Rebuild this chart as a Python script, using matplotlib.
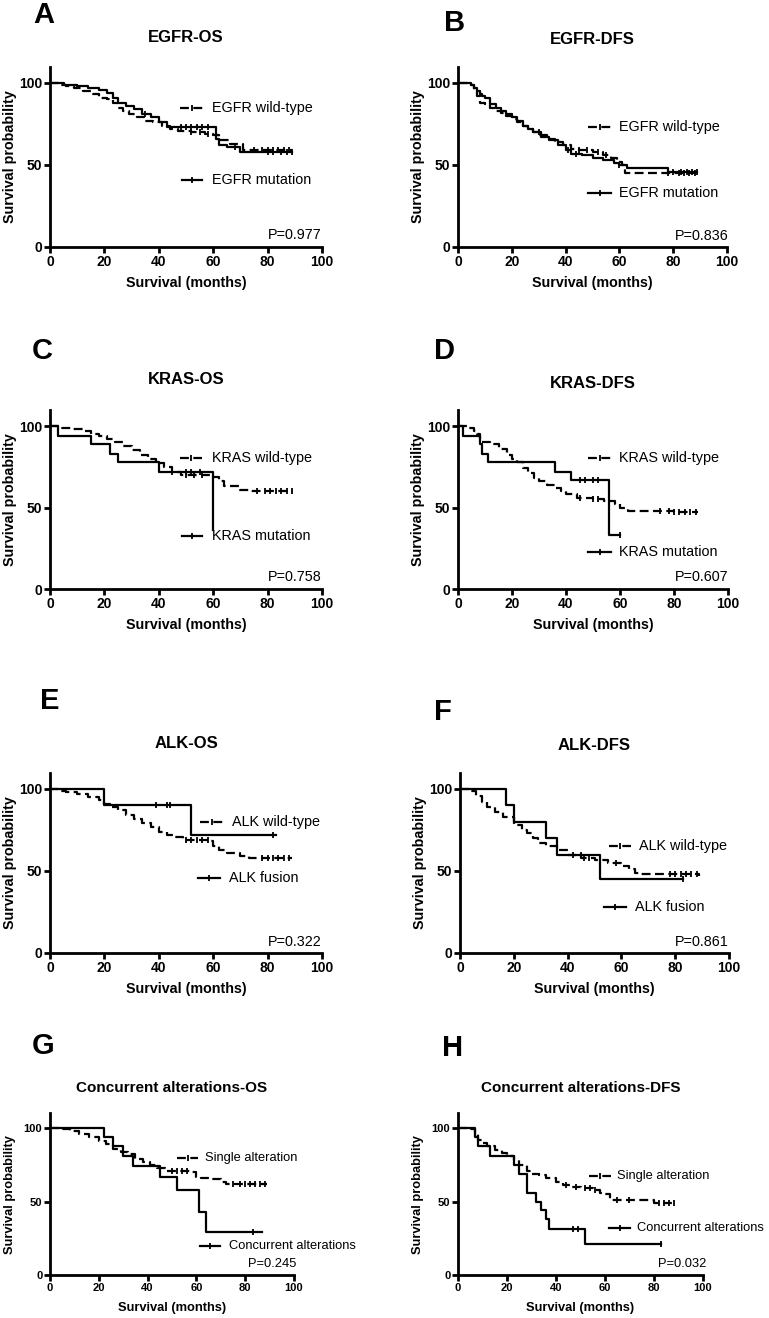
import matplotlib
matplotlib.use("Agg")
import matplotlib.pyplot as plt
from matplotlib.lines import Line2D
import numpy as np

plt.rcParams['font.family'] = ['Liberation Sans', 'DejaVu Sans']

W, H = 769, 1318

# ---- data (months, survival %) ----
# A  EGFR-OS
egfr_os_wt_t = [0, 3, 6, 9, 12, 15, 18, 21, 23, 25, 27, 29, 32, 35, 38, 41, 44, 47, 52, 57, 60, 62, 66, 71, 89]
egfr_os_wt_s = [100, 99, 98, 97, 95, 93, 91, 90, 88, 85, 83, 81, 79, 77, 76, 74, 72, 71, 70, 69, 68, 65, 63, 59, 59]
egfr_os_wt_c = [52, 55, 58, 75, 78, 80, 82, 84, 86, 88]
egfr_os_mt_t = [0, 5, 10, 14, 18, 21, 23, 25, 28, 31, 34, 37, 40, 43, 61, 62, 65, 70, 89]
egfr_os_mt_s = [100, 99, 98, 97, 96, 94, 91, 88, 86, 84, 81, 79, 76, 73, 66, 62, 61, 58, 58]
egfr_os_mt_c = [35, 48, 50, 52, 54, 56, 58, 68, 80, 82, 85, 87, 89]

# B  EGFR-DFS
egfr_dfs_wt_t = [0, 5, 6, 7, 8, 10, 12, 14, 16, 18, 20, 22, 24, 26, 28, 30, 33, 36, 39, 42, 45, 50, 54, 57, 59, 61, 62, 89]
egfr_dfs_wt_s = [100, 99, 96, 92, 88, 87, 85, 83, 82, 80, 78, 76, 74, 72, 70, 68, 66, 64, 62, 60, 59, 58, 56, 54, 52, 50, 45, 45]
egfr_dfs_wt_c = [45, 48, 52, 55, 78, 82, 84, 86, 88]
egfr_dfs_mt_t = [0, 5, 6, 7, 8, 9, 10, 12, 14, 16, 18, 20, 22, 24, 26, 28, 31, 34, 37, 40, 42, 46, 50, 54, 58, 60, 63, 78, 89]
egfr_dfs_mt_s = [100, 99, 97, 95, 93, 92, 91, 87, 85, 83, 81, 79, 77, 74, 72, 70, 67, 65, 62, 59, 57, 56, 54, 53, 51, 50, 48, 46, 46]
egfr_dfs_mt_c = [8, 30, 41, 44, 60, 80, 83, 85, 87, 89]

# C  KRAS-OS
kras_os_wt_t = [0, 4, 8, 12, 15, 18, 21, 24, 27, 30, 33, 36, 39, 42, 45, 48, 60, 62, 64, 70, 73, 89]
kras_os_wt_s = [100, 99, 98, 97, 95, 94, 92, 90, 88, 85, 82, 80, 77, 75, 72, 70, 69, 66, 63, 61, 60, 60]
kras_os_wt_c = [50, 53, 56, 76, 79, 81, 83, 85, 87, 89]
kras_os_mt_t = [0, 3, 15, 22, 25, 40, 60]
kras_os_mt_s = [100, 94, 89, 83, 78, 72, 36]
kras_os_mt_c = [45, 50, 52, 55]

# D  KRAS-DFS
kras_dfs_wt_t = [0, 4, 6, 7, 8, 9, 12, 15, 18, 20, 22, 24, 26, 28, 30, 33, 36, 38, 40, 44, 50, 54, 58, 60, 63, 80, 89]
kras_dfs_wt_s = [100, 99, 97, 95, 92, 90, 89, 86, 82, 80, 78, 74, 71, 68, 66, 64, 62, 60, 58, 56, 55, 54, 52, 50, 48, 47, 47]
kras_dfs_wt_c = [45, 50, 52, 75, 78, 80, 82, 84, 86, 88]
kras_dfs_mt_t = [0, 2, 8, 9, 11, 36, 42, 56, 60]
kras_dfs_mt_s = [100, 94, 89, 83, 78, 72, 67, 33, 33]
kras_dfs_mt_c = [45, 47, 50, 52, 60]

# E  ALK-OS
alk_os_wt_t = [0, 3, 6, 10, 14, 18, 20, 22, 25, 28, 31, 34, 37, 40, 43, 46, 49, 59, 60, 62, 65, 70, 73, 89]
alk_os_wt_s = [100, 99, 98, 97, 95, 93, 91, 89, 87, 84, 82, 79, 77, 74, 72, 71, 69, 68, 65, 63, 61, 59, 58, 58]
alk_os_wt_c = [50, 52, 54, 56, 58, 78, 80, 82, 84, 86, 88]
alk_os_mt_t = [0, 20, 52, 83]
alk_os_mt_s = [100, 90, 72, 72]
alk_os_mt_c = [39, 43, 44, 82]

# F  ALK-DFS
alk_dfs_wt_t = [0, 4, 6, 8, 10, 13, 16, 20, 23, 25, 27, 29, 32, 36, 40, 45, 50, 55, 60, 63, 65, 67, 89]
alk_dfs_wt_s = [100, 99, 96, 92, 89, 86, 83, 78, 75, 73, 70, 67, 65, 63, 60, 58, 57, 55, 53, 51, 49, 48, 47]
alk_dfs_wt_c = [46, 48, 58, 78, 80, 82, 84, 86, 88]
alk_dfs_mt_t = [0, 17, 20, 32, 36, 52, 83]
alk_dfs_mt_s = [100, 90, 80, 70, 60, 45, 45]
alk_dfs_mt_c = [42, 45, 83]

# G  Concurrent alterations-OS
conc_os_wt_t = [0, 4, 8, 12, 16, 20, 23, 26, 29, 32, 35, 38, 41, 44, 47, 58, 60, 62, 65, 70, 72, 89]
conc_os_wt_s = [100, 99, 98, 96, 94, 91, 89, 86, 84, 82, 79, 77, 75, 73, 71, 70, 67, 66, 65, 63, 62, 62]
conc_os_wt_c = [50, 52, 54, 56, 75, 78, 80, 82, 84, 86, 88]
conc_os_mt_t = [0, 22, 26, 30, 34, 45, 52, 61, 64, 87]
conc_os_mt_s = [100, 94, 88, 81, 74, 67, 58, 43, 29, 29]
conc_os_mt_c = [83]

# H  Concurrent alterations-DFS
conc_dfs_wt_t = [0, 5, 7, 8, 10, 12, 15, 18, 20, 23, 25, 28, 30, 33, 36, 40, 43, 46, 50, 55, 58, 60, 62, 63, 80, 89]
conc_dfs_wt_s = [100, 99, 96, 92, 90, 88, 85, 83, 81, 78, 75, 71, 69, 68, 66, 63, 61, 60, 59, 58, 56, 55, 52, 51, 49, 49]
conc_dfs_wt_c = [44, 48, 52, 54, 56, 65, 70, 82, 84, 86, 88]
conc_dfs_mt_t = [0, 7, 8, 13, 23, 25, 28, 32, 34, 36, 37, 52, 83]
conc_dfs_mt_s = [100, 94, 88, 81, 75, 69, 56, 50, 44, 38, 31, 21, 21]
conc_dfs_mt_c = [47, 49, 83]

letters = ["A", "B", "C", "D", "E", "F", "G", "H"]
titles = ["EGFR-OS", "EGFR-DFS", "KRAS-OS", "KRAS-DFS", "ALK-OS", "ALK-DFS",
          "Concurrent alterations-OS", "Concurrent alterations-DFS"]
leg_wt = ["EGFR wild-type", "EGFR wild-type", "KRAS wild-type", "KRAS wild-type",
          "ALK wild-type", "ALK wild-type", "Single alteration", "Single alteration"]
leg_mt = ["EGFR mutation", "EGFR mutation", "KRAS mutation", "KRAS mutation",
          "ALK fusion", "ALK fusion", "Concurrent alterations", "Concurrent alterations"]
pvals = ["P=0.977", "P=0.836", "P=0.758", "P=0.607", "P=0.322", "P=0.861", "P=0.245", "P=0.032"]

curves = [
    (egfr_os_wt_t, egfr_os_wt_s, egfr_os_wt_c, egfr_os_mt_t, egfr_os_mt_s, egfr_os_mt_c),
    (egfr_dfs_wt_t, egfr_dfs_wt_s, egfr_dfs_wt_c, egfr_dfs_mt_t, egfr_dfs_mt_s, egfr_dfs_mt_c),
    (kras_os_wt_t, kras_os_wt_s, kras_os_wt_c, kras_os_mt_t, kras_os_mt_s, kras_os_mt_c),
    (kras_dfs_wt_t, kras_dfs_wt_s, kras_dfs_wt_c, kras_dfs_mt_t, kras_dfs_mt_s, kras_dfs_mt_c),
    (alk_os_wt_t, alk_os_wt_s, alk_os_wt_c, alk_os_mt_t, alk_os_mt_s, alk_os_mt_c),
    (alk_dfs_wt_t, alk_dfs_wt_s, alk_dfs_wt_c, alk_dfs_mt_t, alk_dfs_mt_s, alk_dfs_mt_c),
    (conc_os_wt_t, conc_os_wt_s, conc_os_wt_c, conc_os_mt_t, conc_os_mt_s, conc_os_mt_c),
    (conc_dfs_wt_t, conc_dfs_wt_s, conc_dfs_wt_c, conc_dfs_mt_t, conc_dfs_mt_s, conc_dfs_mt_c),
]

# layout in pixels: axes (left, right, y of 0, y of 100), letter (x, y), title y,
# legend rows (line x0, x1, y, text x), p-value (right x, y), small fonts?
layout = [
    dict(ax=(50, 322, 247, 83), let=(33, 15), ty=38, l1=(180, 203, 108, 212), l2=(182, 202, 180, 212), p=(322, 235), small=False),
    dict(ax=(458, 727, 247, 83), let=(444, 23), ty=40, l1=(588, 611, 127, 619), l2=(588, 611, 193, 619), p=(729, 236), small=False),
    dict(ax=(50, 322, 589, 426), let=(32, 351), ty=380, l1=(180, 202, 458, 212), l2=(182, 202, 536, 212), p=(322, 577), small=False),
    dict(ax=(458, 728, 589, 426), let=(434, 351), ty=383, l1=(588, 611, 458, 619), l2=(588, 611, 552, 619), p=(729, 577), small=False),
    dict(ax=(50, 322, 953, 789), let=(40, 701), ty=743, l1=(200, 223, 822, 232), l2=(198, 220, 878, 229), p=(322, 942), small=False),
    dict(ax=(460, 729, 953, 789), let=(434, 712), ty=745, l1=(609, 631, 846, 639), l2=(604, 626, 907, 635), p=(729, 942), small=False),
    dict(ax=(50, 294, 1275, 1128), let=(32, 1046), ty=1088, l1=(177, 198, 1158, 205), l2=(200, 220, 1246, 229), p=(296, 1264), small=True),
    dict(ax=(458, 703, 1275, 1128), let=(442, 1048), ty=1088, l1=(589, 611, 1176, 617), l2=(609, 630, 1228, 637), p=(706, 1264), small=True),
]

DASH = (0, (4, 2))


def fx(px):
    return px / W


def fy(py):
    return 1 - py / H


def surv_at(ts, ss, t):
    idx = np.searchsorted(ts, t, side='right') - 1
    return np.asarray(ss)[idx]


fig = plt.figure(figsize=(W / 100, H / 100), dpi=100)

for i in range(8):
    lay = layout[i]
    wt_t, wt_s, wt_c, mt_t, mt_s, mt_c = curves[i]
    left, right, y0, y100 = lay['ax']
    span = y0 - y100
    if lay['small']:
        f_tick, f_lab, f_title, f_leg = 8, 9.3, 11, 9.3
    else:
        f_tick, f_lab, f_title, f_leg = 10, 10.3, 12, 10.4

    ax = fig.add_axes([fx(left), fy(y0), (right - left) / W, span * 1.1 / H])
    ax.set_xlim(0, 100)
    ax.set_ylim(0, 110)

    ax.step(wt_t, wt_s, where='post', color='black', lw=1.6, ls=DASH)
    ax.step(mt_t, mt_s, where='post', color='black', lw=1.6)
    ax.plot(wt_c, surv_at(wt_t, wt_s, wt_c), ls='none', marker='|', ms=4, mew=1.3, color='black')
    ax.plot(mt_c, surv_at(mt_t, mt_s, mt_c), ls='none', marker='|', ms=4, mew=1.3, color='black')

    for s in ['top', 'right']:
        ax.spines[s].set_visible(False)
    for s in ['left', 'bottom']:
        ax.spines[s].set_linewidth(2)
    ax.set_xticks([0, 20, 40, 60, 80, 100])
    ax.set_yticks([0, 50, 100])
    ax.tick_params(direction='out', length=4, width=2, labelsize=f_tick, pad=1.5)
    for lab in ax.get_xticklabels() + ax.get_yticklabels():
        lab.set_fontweight('bold')

    cx = (left + right) / 2
    fig.text(fx(cx), fy(lay['ty']), titles[i], ha='center', va='center', fontsize=f_title, fontweight='bold')
    fig.text(fx(lay['let'][0]), fy(lay['let'][1]), letters[i], ha='left', va='center', fontsize=21, fontweight='bold')
    xl_off = 33 if lay['small'] else 36
    fig.text(fx(cx), fy(y0 + xl_off), "Survival (months)", ha='center', va='center', fontsize=f_lab, fontweight='bold')
    fig.text(fx(left - 40), fy(y0 - span * 0.55), "Survival probability", ha='center', va='center',
             rotation=90, fontsize=f_lab, fontweight='bold')

    for (x0, x1, yy, tx), name, ls in [(lay['l1'], leg_wt[i], DASH), (lay['l2'], leg_mt[i], '-')]:
        fig.add_artist(Line2D([fx(x0), fx(x1)], [fy(yy), fy(yy)], transform=fig.transFigure,
                              color='black', lw=1.6, ls=ls))
        fig.add_artist(Line2D([fx((x0 + x1) / 2)], [fy(yy)], transform=fig.transFigure,
                              color='black', marker='|', ms=4, mew=1.3, ls='none'))
        fig.text(fx(tx), fy(yy), name, ha='left', va='center', fontsize=f_leg)

    fig.text(fx(lay['p'][0]), fy(lay['p'][1]), pvals[i], ha='right', va='center', fontsize=f_leg)

fig.savefig("out.png", dpi=100)
